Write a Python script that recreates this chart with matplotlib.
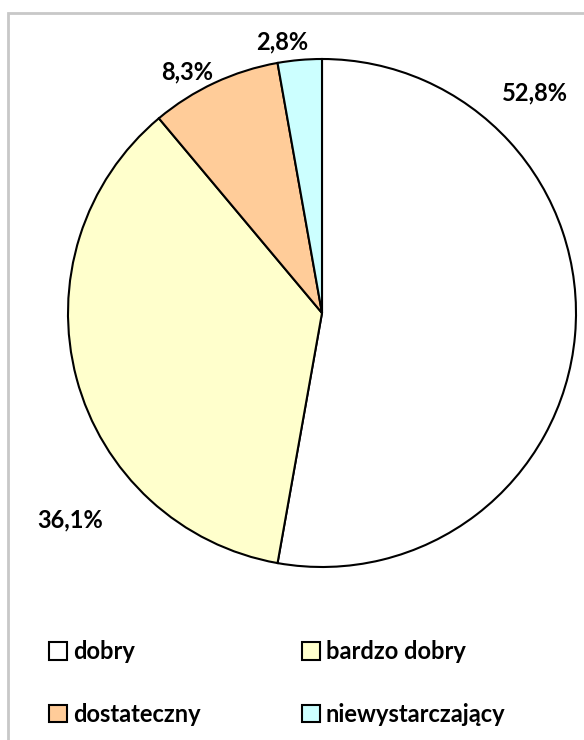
import matplotlib
matplotlib.use("Agg")
import matplotlib.pyplot as plt
from matplotlib.patches import Rectangle, Patch

categories = ["dobry", "bardzo dobry", "dostateczny", "niewystarczający"]
values = [52.8, 36.1, 8.3, 2.8]
colors = ["#FFFFFF", "#FFFFCC", "#FFCC99", "#CCFFFF"]
label_texts = ["52,8%", "36,1%", "8,3%", "2,8%"]

plt.rcParams['font.family'] = ['Lato', 'DejaVu Sans']

W, H = 584, 740
fig = plt.figure(figsize=(W / 100, H / 100), dpi=100)
fig.patch.set_facecolor("white")

# chart border (partially clipped)
fig.patches.append(Rectangle((7.5 / W, -0.05), 1.1, 1 - 12.5 / H + 0.05,
                             transform=fig.transFigure, fill=False,
                             edgecolor="#C8C8C8", linewidth=2))

cx, cy, r = 322, 313, 254
ax = fig.add_axes([(cx - r) / W, 1 - (cy + r) / H, 2 * r / W, 2 * r / H])

wedges, _ = ax.pie(values, colors=colors, startangle=90, counterclock=False,
                   radius=1.0,
                   wedgeprops=dict(edgecolor="black", linewidth=1.5))
ax.set_xlim(-1, 1)
ax.set_ylim(-1, 1)
ax.set_aspect("equal")
ax.axis("off")

label_pos = [(0.84, 0.866), (-0.99, -0.815), (-0.53, 0.95), (-0.155, 1.067)]
for txt, (x, y) in zip(label_texts, label_pos):
    ax.text(x, y, txt, ha="center", va="center", fontsize=17,
            fontweight="bold", clip_on=False)

order = [0, 2, 1, 3]
handles = [Patch(facecolor=colors[i], edgecolor="black", linewidth=1.5)
           for i in order]
labels = [categories[i] for i in order]
fig.legend(handles, labels, ncol=2, loc="upper left",
           bbox_to_anchor=(28 / W, 1 - 619 / H), frameon=False,
           prop=dict(weight="bold", size=17),
           handlelength=0.75, handleheight=0.75, handletextpad=0.25,
           columnspacing=4.3, labelspacing=1.68)

fig.savefig("out.png", dpi=100, facecolor="white")
